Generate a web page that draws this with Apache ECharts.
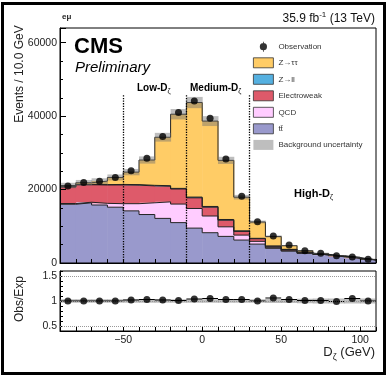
<!DOCTYPE html>
<html>
<head>
<meta charset="utf-8">
<script src="https://cdn.jsdelivr.net/npm/echarts@6/dist/echarts.min.js"></script>
<style>
  html, body { margin: 0; padding: 0; background: #fff; }
  #main { width: 388px; height: 378px; }
</style>
</head>
<body>
<div id="main"></div>
<script>
// bin edges of D_zeta (GeV), 10 GeV bins
const binEdges = [-90, -80, -70, -60, -50, -40, -30, -20, -10, 0, 10, 20, 30, 40, 50, 60, 70, 80, 90, 100, 110]
const regionEdges = [-50, -10, 30]

// stacked backgrounds, events / bin (bottom to top)
const ttbar = [16000, 16400, 15800, 15200, 14200, 13200, 12150, 11000, 9500, 8250, 7250, 6250, 5150, 4000, 3250, 2650, 2150, 1700, 1300, 800]
const qcd   = [200, 150, 450, 950, 1950, 3200, 4500, 5050, 5350, 4550, 2600, 1350, 750, 270, 80, 40, 30, 20, 15, 10]
const ewk   = [4500, 4750, 5000, 5100, 5050, 4600, 4250, 4100, 2900, 2400, 1800, 1000, 700, 300, 350, 250, 150, 120, 90, 60]
const zll   = [100, 100, 100, 150, 150, 150, 150, 170, 200, 200, 200, 170, 120, 50, 40, 20, 20, 10, 10, 10]
const ztt   = [300, 450, 950, 1900, 3400, 6900, 13200, 20200, 25750, 23250, 16100, 9150, 4450, 2600, 1000, 400, 260, 130, 150, 100]

const observed = [21000, 21900, 22250, 23300, 25100, 28500, 34450, 41000, 44100, 39450, 28300, 18200, 11250, 7350, 4900, 3350, 2650, 1970, 1620, 1000]
const ratio    = [1.0, 1.0, 1.0, 1.0, 1.02, 1.03, 1.02, 1.01, 1.04, 1.05, 1.03, 1.03, 1.0, 1.06, 1.03, 1.01, 1.01, 0.99, 1.05, 1.0]
// relative background uncertainty
const bkgUnc   = [0.035, 0.035, 0.035, 0.035, 0.035, 0.035, 0.035, 0.035, 0.035, 0.035, 0.035, 0.035, 0.035, 0.04, 0.04, 0.045, 0.05, 0.05, 0.05, 0.05]

const yTicksMain = [0, 20000, 40000, 60000]
const yTicksRatio = [0.5, 1, 1.5]
const xTicks = [-50, 0, 50, 100]

const FONT = 'Liberation Sans, Arial, Helvetica, sans-serif'

const components = [
  { name: 't\u0074\u0304', vals: ttbar, color: '#9999cc' },
  { name: 'QCD', vals: qcd, color: '#ffccff' },
  { name: 'Electroweak', vals: ewk, color: '#de5a6a' },
  { name: 'Z\u2192ll', vals: zll, color: '#55b0e0' },
  { name: 'Z\u2192\u03c4\u03c4', vals: ztt, color: '#ffcc66' }
]

const centers = binEdges.slice(0, -1).map((x, i) => (x + binEdges[i + 1]) / 2)

// cumulative levels for the stack
let running = ttbar.map(() => 0)
const levels = components.map(c => {
  const lo = running
  const hi = lo.map((v, i) => v + c.vals[i])
  running = hi
  return { lo: lo, hi: hi }
})
const total = running

// values at left bin edges, last one repeated at the right edge (for step: 'end')
const stepData = vals => binEdges.map((x, i) => [x, vals[Math.min(i, vals.length - 1)]])

// one rectangle per bin: [x0, x1, lo, hi]
const binRects = (lo, hi) => lo.map((v, i) => [binEdges[i], binEdges[i + 1], v, hi[i]])

const renderBin = (params, api) => {
  const p0 = api.coord([api.value(0), api.value(3)])
  const p1 = api.coord([api.value(1), api.value(2)])
  return {
    type: 'rect',
    shape: { x: p0[0], y: p0[1], width: p1[0] - p0[0] + 0.5, height: p1[1] - p0[1] },
    style: { fill: api.visual('color') }
  }
}

const fillSeries = components.map((c, k) => ({
  name: c.name,
  type: 'custom',
  xAxisIndex: 0, yAxisIndex: 0,
  itemStyle: { color: c.color },
  silent: true, z: 2,
  renderItem: renderBin,
  data: binRects(levels[k].lo, levels[k].hi)
}))

const outlineSeries = components.map((c, k) => ({
  name: 'outline' + k,
  type: 'line',
  xAxisIndex: 0, yAxisIndex: 0,
  step: 'end', symbol: 'none', silent: true, z: 3,
  lineStyle: { color: '#222', width: 1 },
  data: stepData(levels[k].hi)
}))

const chart = echarts.init(document.getElementById('main'), null, { renderer: 'canvas' })

const option = {
  animation: false,
  textStyle: { fontFamily: FONT },
  grid: [
    { left: 60, top: 28, width: 316, height: 235, show: true, borderColor: '#000', borderWidth: 1, backgroundColor: 'transparent', z: 10 },
    { left: 60, top: 271, width: 316, height: 60, show: true, borderColor: '#000', borderWidth: 1, backgroundColor: 'transparent' }
  ],
  xAxis: [
    {
      gridIndex: 0, type: 'value', min: -90, max: 110, interval: 10,
      axisLine: { onZero: false, lineStyle: { color: '#000' } },
      axisTick: { inside: true, length: 4, lineStyle: { color: '#000' } },
      axisLabel: { show: false },
      splitLine: { show: false },
      z: 10
    },
    {
      gridIndex: 1, type: 'value', min: -90, max: 110, interval: 10,
      axisLine: { onZero: false, lineStyle: { color: '#000' } },
      axisTick: { inside: true, length: 4, lineStyle: { color: '#000' } },
      axisLabel: {
        color: '#222', fontSize: 10.5, margin: 4,
        formatter: v => xTicks.indexOf(v) >= 0 ? String(v).replace('-', '\u2212') : ''
      },
      splitLine: { show: false }
    }
  ],
  yAxis: [
    {
      gridIndex: 0, type: 'value', min: 0, max: 64000, interval: 20000,
      axisLine: { show: true, onZero: false, lineStyle: { color: '#000' } },
      axisTick: { inside: true, length: 6, lineStyle: { color: '#000' } },
      minorTick: { show: true, splitNumber: 4, length: 3, lineStyle: { color: '#000' } },
      axisLabel: {
        color: '#222', fontSize: 10.5, margin: 3, showMaxLabel: false,
        formatter: v => yTicksMain.indexOf(v) >= 0 ? String(v) : ''
      },
      splitLine: { show: false },
      z: 10
    },
    {
      gridIndex: 1, type: 'value', min: 0.4, max: 1.6, interval: 0.1,
      axisLine: { show: true, onZero: false, lineStyle: { color: '#000' } },
      axisTick: { inside: true, length: 3, lineStyle: { color: '#000' } },
      axisLabel: {
        color: '#222', fontSize: 10.5, margin: 3,
        formatter: v => {
          const r = Math.round(v * 10) / 10
          return yTicksRatio.indexOf(r) >= 0 ? String(r) : ''
        }
      },
      splitLine: { show: false }
    }
  ],
  legend: {
    left: 253, top: 41.7, orient: 'vertical',
    itemWidth: 20, itemHeight: 10, itemGap: 5.7, padding: 0,
    selectedMode: false,
    textStyle: { fontSize: 8, color: '#333', fontFamily: FONT },
    itemStyle: { borderColor: '#333', borderWidth: 0.8 },
    data: [
      { name: 'Observation', icon: 'path://M4.6,0H5.4V10H4.6Z M8.6,5A3.6,3.6,0,1,1,1.4,5A3.6,3.6,0,1,1,8.6,5Z', itemStyle: { borderWidth: 0, color: '#000' } },
      { name: 'Z\u2192\u03c4\u03c4', icon: 'rect' },
      { name: 'Z\u2192ll', icon: 'rect' },
      { name: 'Electroweak', icon: 'rect' },
      { name: 'QCD', icon: 'rect' },
      { name: 't\u0074\u0304', icon: 'rect' },
      { name: 'Background uncertainty', icon: 'rect', itemStyle: { borderWidth: 0 } }
    ]
  },
  graphic: [
    { type: 'rect', shape: { x: 2.5, y: 3.5, width: 382, height: 370 }, style: { fill: 'none', stroke: '#000', lineWidth: 3 }, z: 100 },
    { type: 'text', left: 62, top: 13, style: { text: 'e\u03bc', font: 'bold 8px ' + FONT, fill: '#222' } },
    {
      type: 'text', right: 13, top: 11,
      style: {
        text: '{a|35.9 fb}{s|-1}{a| (13 TeV)}', fill: '#111',
        rich: {
          a: { fontSize: 12, fontFamily: FONT, lineHeight: 14, verticalAlign: 'bottom' },
          s: { fontSize: 8, fontFamily: FONT, lineHeight: 14, verticalAlign: 'top' }
        }
      }
    },
    { type: 'text', left: 74, top: 36, style: { text: 'CMS', font: 'bold 22px ' + FONT, fill: '#000' } },
    { type: 'text', left: 75, top: 60, style: { text: 'Preliminary', font: 'italic 15px ' + FONT, fill: '#000' } },
    {
      type: 'text', left: 137, top: 83,
      style: {
        text: '{a|Low-D}{s|\u03b6}', fill: '#000',
        rich: {
          a: { fontSize: 10, fontWeight: 'bold', fontFamily: FONT, lineHeight: 12, verticalAlign: 'top' },
          s: { fontSize: 7, fontFamily: FONT, lineHeight: 12, verticalAlign: 'bottom' }
        }
      }
    },
    {
      type: 'text', left: 190, top: 83,
      style: {
        text: '{a|Medium-D}{s|\u03b6}', fill: '#000',
        rich: {
          a: { fontSize: 10, fontWeight: 'bold', fontFamily: FONT, lineHeight: 12, verticalAlign: 'top' },
          s: { fontSize: 7, fontFamily: FONT, lineHeight: 12, verticalAlign: 'bottom' }
        }
      }
    },
    {
      type: 'text', left: 294, top: 188,
      style: {
        text: '{a|High-D}{s|\u03b6}', fill: '#000',
        rich: {
          a: { fontSize: 11, fontWeight: 'bold', fontFamily: FONT, lineHeight: 13, verticalAlign: 'top' },
          s: { fontSize: 7, fontFamily: FONT, lineHeight: 13, verticalAlign: 'bottom' }
        }
      }
    },
    {
      type: 'text', x: 20, y: 74, rotation: Math.PI / 2,
      style: { text: 'Events / 10.0 GeV', font: '12px ' + FONT, fill: '#222', align: 'center', verticalAlign: 'middle' }
    },
    {
      type: 'text', x: 20, y: 299, rotation: Math.PI / 2,
      style: { text: 'Obs/Exp', font: '12px ' + FONT, fill: '#222', align: 'center', verticalAlign: 'middle' }
    },
    {
      type: 'text', right: 13, top: 346,
      style: {
        text: '{a|D}{s|\u03b6}{a| (GeV)}', fill: '#222',
        rich: {
          a: { fontSize: 13, fontFamily: FONT, lineHeight: 16, verticalAlign: 'top' },
          s: { fontSize: 9, fontFamily: FONT, lineHeight: 16, verticalAlign: 'bottom' }
        }
      }
    }
  ],
  series: fillSeries.concat(outlineSeries).concat([
    {
      name: 'Background uncertainty', type: 'custom', xAxisIndex: 0, yAxisIndex: 0,
      itemStyle: { color: 'rgba(110,110,110,0.45)' }, silent: true, z: 4,
      renderItem: renderBin,
      data: binRects(total.map((t, i) => t * (1 - bkgUnc[i])), total.map((t, i) => t * (1 + bkgUnc[i])))
    },
    {
      name: 'Observation', type: 'scatter', xAxisIndex: 0, yAxisIndex: 0,
      symbol: 'circle', symbolSize: 7, color: '#000', z: 6, silent: true,
      data: centers.map((x, i) => [x, observed[i]]),
      markLine: {
        silent: true, symbol: 'none', label: { show: false },
        lineStyle: { color: '#000', type: 'dotted', width: 1.3 },
        data: regionEdges.map(x => [{ coord: [x, 0] }, { coord: [x, 46000] }])
      }
    },
    // ratio panel
    {
      name: 'ratioUnc', type: 'custom', xAxisIndex: 1, yAxisIndex: 1,
      itemStyle: { color: 'rgba(110,110,110,0.45)' }, silent: true, z: 2,
      renderItem: renderBin,
      data: binRects(bkgUnc.map(u => 1 - u), bkgUnc.map(u => 1 + u)),
      markLine: {
        silent: true, symbol: 'none', label: { show: false },
        lineStyle: { color: '#999', type: 'dotted', width: 1 },
        data: yTicksRatio.map(v => ({ yAxis: v }))
      }
    },
    {
      name: 'ratioBars', type: 'custom', xAxisIndex: 1, yAxisIndex: 1, silent: true, z: 4,
      data: ratio.map((r, i) => [binEdges[i], binEdges[i + 1], r]),
      renderItem: (params, api) => {
        const a = api.coord([api.value(0), api.value(2)])
        const b = api.coord([api.value(1), api.value(2)])
        return { type: 'line', shape: { x1: a[0], y1: a[1], x2: b[0], y2: b[1] }, style: { stroke: '#000', lineWidth: 1 } }
      }
    },
    {
      name: 'ratioPoints', type: 'scatter', xAxisIndex: 1, yAxisIndex: 1,
      symbol: 'circle', symbolSize: 7, color: '#000', z: 5, silent: true,
      data: centers.map((x, i) => [x, ratio[i]])
    }
  ])
}

chart.setOption(option)
</script>
</body>
</html>
